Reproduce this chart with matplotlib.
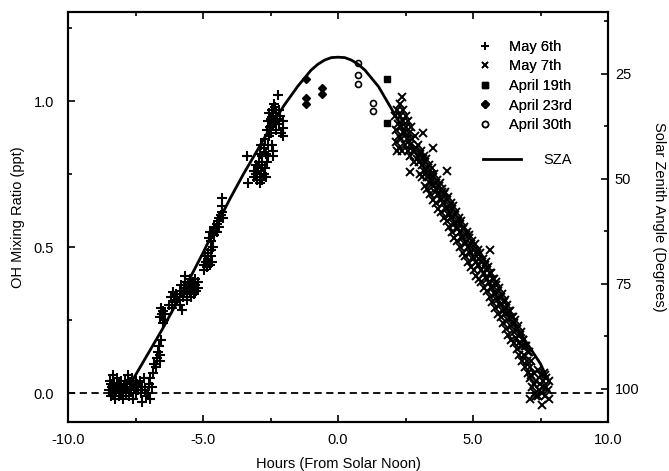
import matplotlib
matplotlib.use("Agg")
import matplotlib.pyplot as plt
from matplotlib.lines import Line2D
from matplotlib.ticker import MultipleLocator, FormatStrFormatter

plt.rcParams['font.family'] = ['Liberation Sans', 'DejaVu Sans']
plt.rcParams['font.size'] = 10.5

# SZA curve (hours from solar noon, degrees)
sza_hours = [-7.6, -7.0, -6.5, -6.0, -5.5, -5.0, -4.5, -4.0, -3.5, -3.0, -2.5, -2.0,
             -1.5, -1.0, -0.75, -0.5, -0.25, 0.0, 0.25, 0.5, 0.75, 1.0, 1.5, 2.0,
             2.5, 3.0, 3.5, 4.0, 4.5, 5.0, 5.5, 6.0, 6.5, 7.0, 7.5, 7.75]
sza_deg = [97.8, 91.2, 85.7, 79.8, 73.8, 67.6, 61.0, 54.7, 48.8, 43.3, 37.7, 32.5,
           28.0, 24.1, 22.7, 21.7, 21.1, 21.0, 21.1, 21.7, 22.7, 24.1, 28.0, 33.5,
           39.1, 45.3, 50.9, 56.5, 62.4, 68.3, 73.8, 79.4, 84.3, 89.1, 94.0, 97.5]

# May 6th (+)
may6 = [
    (-8.48, 0.01), (-8.45, 0.04), (-8.42, -0.01), (-8.38, 0.02), (-8.35, 0.06), (-8.32, 0.0),
    (-8.28, 0.03), (-8.25, -0.02), (-8.22, 0.01), (-8.2, 0.05), (-8.15, 0.02), (-8.12, -0.01),
    (-8.1, 0.03), (-8.05, 0.0), (-8.02, 0.04), (-7.98, 0.01), (-7.95, -0.02), (-8.4, 0.03),
    (-8.3, 0.015), (-8.18, 0.035), (-8.08, 0.015), (-7.92, 0.02),
    (-7.88, 0.04), (-7.85, 0.0), (-7.8, 0.02), (-7.78, 0.06), (-7.75, -0.01), (-7.7, 0.03),
    (-7.65, 0.01), (-7.62, 0.05), (-7.6, -0.02), (-7.55, 0.02), (-7.5, 0.04), (-7.48, 0.0),
    (-7.45, 0.03), (-7.4, 0.01), (-7.35, 0.04), (-7.3, 0.0), (-7.25, 0.02), (-7.2, 0.05),
    (-7.15, 0.01), (-7.72, 0.015), (-7.58, 0.035), (-7.42, 0.02), (-7.82, 0.03),
    (-7.26, -0.03), (-6.96, -0.02), (-7.1, -0.01),
    (-7.05, 0.0), (-7.0, 0.03), (-6.95, 0.05), (-6.9, 0.02), (-6.85, 0.07), (-6.8, 0.1),
    (-6.75, 0.09), (-6.7, 0.12), (-6.68, 0.14), (-6.62, 0.16), (-6.6, 0.13), (-6.55, 0.18),
    (-6.58, 0.11),
    (-6.6, 0.26), (-6.55, 0.29), (-6.5, 0.24), (-6.47, 0.28), (-6.45, 0.25), (-6.4, 0.27),
    (-6.52, 0.27),
    (-6.25, 0.30), (-6.2, 0.33), (-6.15, 0.29), (-6.1, 0.345), (-6.05, 0.31), (-6.0, 0.34),
    (-5.95, 0.32), (-5.85, 0.3), (-5.78, 0.284), (-6.08, 0.33),
    (-5.85, 0.35), (-5.8, 0.37), (-5.75, 0.33), (-5.7, 0.36), (-5.67, 0.40), (-5.65, 0.38),
    (-5.6, 0.34), (-5.55, 0.37), (-5.5, 0.39), (-5.48, 0.35), (-5.45, 0.33), (-5.4, 0.36),
    (-5.38, 0.38), (-5.35, 0.34), (-5.3, 0.37), (-5.28, 0.39), (-5.25, 0.35), (-5.2, 0.38),
    (-5.18, 0.36), (-5.72, 0.35), (-5.62, 0.36), (-5.52, 0.355), (-5.42, 0.375), (-5.32, 0.355),
    (-5.58, 0.32),
    (-4.98, 0.44), (-4.95, 0.42), (-4.92, 0.47), (-4.9, 0.45), (-4.85, 0.43), (-4.82, 0.48),
    (-4.8, 0.46), (-4.75, 0.44), (-4.72, 0.49), (-4.7, 0.47), (-4.66, 0.45), (-4.64, 0.5),
    (-4.78, 0.53), (-4.74, 0.553), (-4.7, 0.52), (-4.65, 0.55), (-4.6, 0.54), (-4.58, 0.57),
    (-4.55, 0.56), (-4.5, 0.58), (-4.48, 0.55), (-4.45, 0.59), (-4.42, 0.6), (-4.4, 0.57),
    (-4.35, 0.61), (-4.31, 0.667), (-4.3, 0.62), (-4.28, 0.64), (-4.25, 0.6),
    (-3.38, 0.81), (-3.32, 0.72), (-3.12, 0.76), (-3.1, 0.74), (-3.05, 0.78), (-3.02, 0.75),
    (-3.0, 0.73), (-2.95, 0.77), (-2.92, 0.79), (-2.9, 0.74), (-2.85, 0.76), (-2.82, 0.73),
    (-2.8, 0.78), (-2.75, 0.75), (-2.7, 0.77), (-2.65, 0.74), (-2.62, 0.79), (-2.88, 0.72),
    (-2.9, 0.82), (-2.85, 0.85), (-2.8, 0.81), (-2.75, 0.84), (-2.7, 0.87), (-2.68, 0.82),
    (-2.6, 0.81), (-2.6, 0.85), (-2.55, 0.88), (-2.46, 0.85), (-2.4, 0.81), (-2.39, 0.83),
    (-2.64, 0.9), (-2.6, 0.93), (-2.55, 0.96), (-2.52, 0.91), (-2.5, 0.94), (-2.45, 0.97),
    (-2.42, 0.92), (-2.4, 0.95), (-2.38, 0.99), (-2.35, 0.93), (-2.3, 0.96), (-2.28, 0.9),
    (-2.25, 0.94), (-2.21, 1.02), (-2.2, 0.97), (-2.18, 0.92), (-2.15, 0.95), (-2.1, 0.89),
    (-2.05, 0.93), (-2.03, 0.906), (-2.02, 0.88), (-2.48, 0.89), (-2.33, 0.98),
]

# May 7th (x)
may7 = [
    (2.12, 0.95), (2.15, 0.90), (2.15, 0.86), (2.18, 0.83), (2.2, 0.97), (2.22, 0.92),
    (2.25, 0.88), (2.25, 0.84), (2.3, 0.99), (2.3, 0.95), (2.32, 0.91), (2.35, 0.87),
    (2.37, 1.015), (2.38, 0.83), (2.4, 0.97), (2.42, 0.93), (2.45, 0.89), (2.47, 0.85),
    (2.5, 0.95), (2.52, 0.91), (2.55, 0.87), (2.58, 0.83), (2.6, 0.93), (2.62, 0.89),
    (2.65, 0.85), (2.68, 0.81), (2.7, 0.91), (2.75, 0.87), (2.78, 0.83), (2.8, 0.79),
    (2.85, 0.88), (2.9, 0.84), (2.92, 0.80), (2.67, 0.757), (3.15, 0.89), (3.52, 0.84),
    (4.05, 0.76), (5.63, 0.49),
    (2.97, 0.85), (3.0, 0.79), (3.04, 0.82), (3.02, 0.75),
    (3.07, 0.83), (3.1, 0.78), (3.13, 0.80), (3.11, 0.74),
    (3.18, 0.81), (3.2, 0.76), (3.24, 0.79), (3.22, 0.71),
    (3.27, 0.80), (3.3, 0.74), (3.33, 0.77), (3.31, 0.70),
    (3.37, 0.78), (3.4, 0.72), (3.44, 0.75), (3.42, 0.68),
    (3.47, 0.77), (3.5, 0.71), (3.53, 0.74), (3.52, 0.66),
    (3.57, 0.75), (3.6, 0.69), (3.64, 0.72), (3.62, 0.65),
    (3.67, 0.73), (3.7, 0.68), (3.73, 0.71), (3.71, 0.63),
    (3.77, 0.72), (3.8, 0.66), (3.84, 0.69), (3.82, 0.62),
    (3.87, 0.70), (3.9, 0.65), (3.93, 0.68), (3.92, 0.60),
    (3.97, 0.69), (4.0, 0.63), (4.04, 0.66), (4.02, 0.59),
    (4.07, 0.67), (4.1, 0.61), (4.13, 0.64), (4.11, 0.57),
    (4.17, 0.65), (4.2, 0.60), (4.24, 0.63), (4.22, 0.55),
    (4.27, 0.64), (4.3, 0.58), (4.33, 0.61), (4.31, 0.53),
    (4.37, 0.62), (4.4, 0.56), (4.44, 0.59), (4.42, 0.52),
    (4.47, 0.60), (4.5, 0.55), (4.53, 0.58), (4.52, 0.50),
    (4.57, 0.59), (4.6, 0.53), (4.64, 0.56), (4.62, 0.48),
    (4.67, 0.57), (4.7, 0.51), (4.73, 0.54), (4.71, 0.47),
    (4.77, 0.55), (4.8, 0.50), (4.84, 0.53), (4.82, 0.45),
    (4.87, 0.54), (4.9, 0.48), (4.93, 0.51), (4.92, 0.43),
    (4.97, 0.52), (5.0, 0.46), (5.04, 0.49), (5.02, 0.42),
    (5.07, 0.51), (5.1, 0.45), (5.13, 0.48), (5.11, 0.40),
    (5.17, 0.49), (5.2, 0.44), (5.24, 0.46), (5.22, 0.39),
    (5.27, 0.48), (5.3, 0.42), (5.33, 0.45), (5.31, 0.38),
    (5.37, 0.46), (5.4, 0.41), (5.44, 0.44), (5.42, 0.36),
    (5.47, 0.45), (5.5, 0.39), (5.53, 0.42), (5.52, 0.35),
    (5.57, 0.43), (5.6, 0.38), (5.64, 0.41), (5.62, 0.33),
    (5.67, 0.41), (5.7, 0.36), (5.73, 0.39), (5.71, 0.31),
    (5.77, 0.39), (5.8, 0.34), (5.84, 0.37), (5.82, 0.29),
    (5.87, 0.38), (5.9, 0.32), (5.93, 0.35), (5.92, 0.27),
    (5.97, 0.36), (6.0, 0.30), (6.04, 0.33), (6.02, 0.26),
    (6.07, 0.34), (6.1, 0.28), (6.13, 0.31), (6.11, 0.24),
    (6.17, 0.32), (6.2, 0.27), (6.24, 0.29), (6.22, 0.22),
    (6.27, 0.30), (6.3, 0.25), (6.33, 0.28), (6.31, 0.20),
    (6.37, 0.28), (6.4, 0.23), (6.44, 0.26), (6.42, 0.18),
    (6.47, 0.26), (6.5, 0.21), (6.53, 0.24), (6.52, 0.17),
    (6.57, 0.25), (6.6, 0.19), (6.64, 0.22), (6.62, 0.15),
    (6.67, 0.23), (6.7, 0.17), (6.73, 0.20), (6.71, 0.13),
    (6.77, 0.21), (6.8, 0.16), (6.84, 0.18), (6.82, 0.11),
    (6.87, 0.18), (6.9, 0.13), (6.93, 0.16), (6.92, 0.09),
    (6.97, 0.16), (7.0, 0.11), (7.04, 0.14), (7.02, 0.07),
    (7.07, 0.14), (7.1, 0.09), (7.13, 0.11), (7.11, 0.05),
    (7.15, 0.06), (7.2, 0.02), (7.25, 0.07), (7.3, 0.0), (7.35, 0.04), (7.4, 0.08),
    (7.42, -0.01), (7.48, 0.03), (7.5, 0.06), (7.55, 0.0), (7.6, 0.04), (7.62, 0.07),
    (7.65, -0.01), (7.7, 0.02), (7.72, 0.05), (7.78, 0.01), (7.8, 0.04), (7.25, 0.03),
    (7.45, 0.01), (7.58, 0.02), (7.68, 0.06), (7.35, -0.01), (7.1, -0.02), (7.55, -0.04),
    (7.8, -0.02),
]

april19 = [(1.8, 1.075), (1.8, 0.925)]
april23 = [(-1.2, 1.075), (-1.2, 1.01), (-1.2, 0.99), (-0.6, 1.045), (-0.6, 1.025)]
april30 = [(0.74, 1.13), (0.74, 1.09), (0.74, 1.057), (1.31, 0.992), (1.31, 0.967)]


def xs(pts):
    return [p[0] for p in pts]


def ys(pts):
    return [p[1] for p in pts]


fig = plt.figure(figsize=(6.69, 4.71), dpi=100)
ax = fig.add_axes([68 / 669, 49 / 471, 540 / 669, 410 / 471])

ax.axhline(0, color='black', lw=1.3, ls=(0, (4, 2.5)), zorder=1)

ax.plot(xs(may6), ys(may6), ls='none', marker='+', ms=6.5, mew=1.5, color='black', zorder=3)
ax.plot(xs(may7), ys(may7), ls='none', marker='x', ms=5.2, mew=1.4, color='black', zorder=3)
ax.plot(xs(april19), ys(april19), ls='none', marker='s', ms=3.8, color='black', zorder=3)
ax.plot(xs(april23), ys(april23), ls='none', marker='D', ms=3.8, color='black', zorder=3)
ax.plot(xs(april30), ys(april30), ls='none', marker='o', ms=4.3, mfc='white', mec='black',
        mew=1.2, zorder=3)

ax.set_xlim(-10, 10)
ax.set_ylim(-0.0993, 1.3048)
ax.xaxis.set_major_locator(MultipleLocator(5))
ax.xaxis.set_minor_locator(MultipleLocator(2.5))
ax.xaxis.set_major_formatter(FormatStrFormatter('%.1f'))
ax.yaxis.set_major_locator(MultipleLocator(0.5))
ax.yaxis.set_minor_locator(MultipleLocator(0.25))
ax.yaxis.set_major_formatter(FormatStrFormatter('%.1f'))
ax.tick_params(which='both', direction='in', top=True, width=1.2)
ax.tick_params(which='major', length=5)
ax.tick_params(which='minor', length=3)
ax.tick_params(axis='x', pad=8)
ax.tick_params(axis='y', pad=10)
ax.set_xlabel("Hours (From Solar Noon)", labelpad=7)
ax.set_ylabel("OH Mixing Ratio (ppt)", labelpad=6)
for s in ax.spines.values():
    s.set_linewidth(1.5)

ax2 = ax.twinx()
ax2.plot(sza_hours, sza_deg, color='black', lw=2.0, zorder=2)
ax2.set_ylim(107.86, 10.24)
ax2.yaxis.set_major_locator(MultipleLocator(25))
ax2.yaxis.set_minor_locator(MultipleLocator(12.5))
ax2.tick_params(which='both', direction='in', width=1.2, pad=5)
ax2.tick_params(which='major', length=5)
ax2.tick_params(which='minor', length=3)
ax2.set_ylabel("Solar Zenith Angle (Degrees)", rotation=270, labelpad=19)
for s in ax2.spines.values():
    s.set_linewidth(1.5)

# legend for the data series
handles = [
    Line2D([], [], ls='none', marker='+', ms=5.5, mew=1.3, color='black'),
    Line2D([], [], ls='none', marker='x', ms=4.5, mew=1.2, color='black'),
    Line2D([], [], ls='none', marker='s', ms=3.8, color='black'),
    Line2D([], [], ls='none', marker='D', ms=3.8, color='black'),
    Line2D([], [], ls='none', marker='o', ms=4.3, mfc='white', mec='black', mew=1.2),
]
labels = ["May 6th", "May 7th", "April 19th", "April 23rd", "April 30th"]
leg1 = ax.legend(handles, labels, loc='upper left', bbox_to_anchor=(0.762, 0.932),
                 frameon=False, borderpad=0, borderaxespad=0, handlelength=0.8,
                 handletextpad=1.2, labelspacing=0.38)
ax.add_artist(leg1)

sza_handle = [Line2D([], [], color='black', lw=2.0)]
ax2.legend(sza_handle, ["SZA"], loc='upper left', bbox_to_anchor=(0.769, 0.657),
           frameon=False, borderpad=0, borderaxespad=0, handlelength=2.6,
           handletextpad=1.5)

fig.savefig("out.png", dpi=100)
